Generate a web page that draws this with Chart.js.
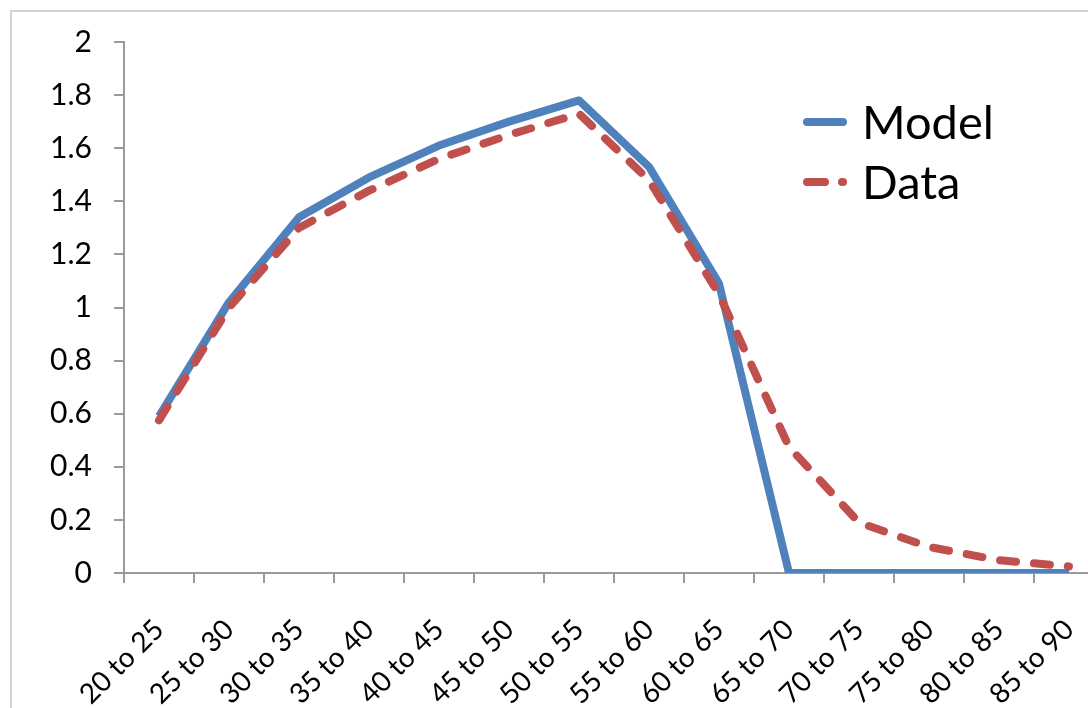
<!DOCTYPE html>
<html>
<head>
<meta charset="utf-8">
<script src="https://cdn.jsdelivr.net/npm/chart.js@4/dist/chart.umd.min.js"></script>
<style>
  html, body { margin: 0; padding: 0; background: #fff; overflow: hidden; }
  body { width: 1088px; height: 708px; position: relative; font-family: Lato, "Open Sans", sans-serif; }
  #frame { position: absolute; left: 10px; top: 10px; width: 1200px; height: 800px;
           border-left: 2px solid #d4d4d4; border-top: 2px solid #d4d4d4; }
  #wrap { position: absolute; left: 0; top: 0; width: 1106px; height: 708px; }
  .legend { position: absolute; left: 803px; color: #000; font-size: 47px; line-height: 1; }
  .legend .row { position: absolute; left: 0; display: flex; align-items: center; white-space: nowrap; }
  .swatch { width: 44px; height: 8px; margin-right: 15px; position: relative; }
  .swatch.model { background: #4F81BD; border-radius: 4px; }
  .swatch.data span { position: absolute; top: 0; height: 8px; background: #C0504D; border-radius: 4px; }
</style>
</head>
<body>
<div id="frame"></div>
<div id="wrap"><canvas id="chart"></canvas></div>
<div class="legend">
  <div class="row" style="top:98px"><div class="swatch model"></div>Model</div>
  <div class="row" style="top:158px"><div class="swatch data"><span style="left:0;width:26px"></span><span style="left:35px;width:9px"></span></div>Data</div>
</div>
<script>
const categories = ['20 to 25', '25 to 30', '30 to 35', '35 to 40', '40 to 45', '45 to 50', '50 to 55',
  '55 to 60', '60 to 65', '65 to 70', '70 to 75', '75 to 80', '80 to 85', '85 to 90'];
const modelValues = [0.59, 1.02, 1.34, 1.49, 1.61, 1.70, 1.78, 1.53, 1.09, 0, 0, 0, 0, 0];
const dataValues = [0.575, 1.00, 1.30, 1.44, 1.56, 1.65, 1.73, 1.48, 1.05, 0.475, 0.19, 0.098, 0.048, 0.025];
const yTickLabels = ['0', '0.2', '0.4', '0.6', '0.8', '1', '1.2', '1.4', '1.6', '1.8', '2'];

const axisGrey = '#9a9a9a';
const xTickFont = { family: 'Lato, "Open Sans", sans-serif', size: 28 };
const yTickFont = { family: 'Lato, "Open Sans", sans-serif', size: 30 };

new Chart(document.getElementById('chart'), {
  type: 'line',
  data: {
    labels: categories,
    datasets: [
      {
        label: 'Model',
        data: modelValues,
        borderColor: '#4F81BD',
        borderWidth: 8,
        pointRadius: 0,
        tension: 0,
        borderJoinStyle: 'round',
        order: 1
      },
      {
        label: 'Data',
        data: dataValues,
        borderColor: '#C0504D',
        borderWidth: 8,
        borderDash: [16, 18],
        borderCapStyle: 'round',
        pointRadius: 0,
        tension: 0,
        order: 0
      }
    ]
  },
  options: {
    responsive: true,
    maintainAspectRatio: false,
    animation: false,
    layout: { padding: { top: 42, right: 2, bottom: 0, left: 0 } },
    plugins: { legend: { display: false }, tooltip: { enabled: false } },
    scales: {
      x: {
        offset: true,
        grid: { offset: true, drawOnChartArea: false, drawTicks: true, tickLength: 10, tickColor: axisGrey, lineWidth: 2 },
        border: { display: true, color: axisGrey, width: 2 },
        ticks: { color: '#000', font: xTickFont, minRotation: 45, maxRotation: 45, autoSkip: false, padding: 30 },
        afterFit: (scale) => {
          scale.height = 135;
          scale.paddingLeft = 0;
          scale.paddingRight = 0;
        }
      },
      y: {
        min: 0,
        max: 2,
        grid: { drawOnChartArea: false, drawTicks: true, tickLength: 10, tickColor: axisGrey, lineWidth: 2 },
        border: { display: true, color: axisGrey, width: 2 },
        ticks: {
          stepSize: 0.2,
          color: '#000',
          font: yTickFont,
          padding: 22,
          callback: (value, index) => yTickLabels[index]
        },
        afterFit: (scale) => { scale.width = 124; }
      }
    }
  }
});
</script>
</body>
</html>
